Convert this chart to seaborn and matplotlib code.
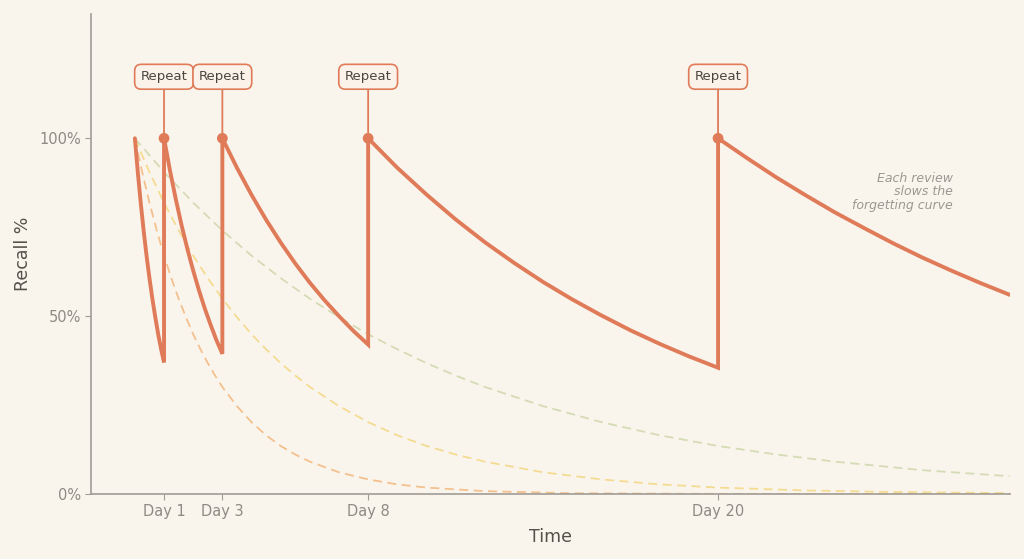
import pandas as pd
import matplotlib.pyplot as plt
import seaborn as sns

# Review days (when a repeat happens)
review_days = [1, 3, 8, 20]

# Solid curve: recall with spaced repetition
recall_days = [0, 0.1, 0.2, 0.3, 0.4, 0.5, 0.6, 0.7, 0.8, 0.9, 1.0,
               1.0, 1.2, 1.4, 1.6, 1.8, 2.0, 2.2, 2.4, 2.6, 2.8, 3.0,
               3.0, 3.5, 4, 4.5, 5, 5.5, 6, 6.5, 7, 7.5, 8,
               8, 9, 10, 11, 12, 13, 14, 15, 16, 17, 18, 19, 20,
               20, 21, 22, 23, 24, 25, 26, 27, 28, 29, 30]
recall_vals = [100, 90.5, 81.9, 74.1, 67.0, 60.7, 54.9, 49.7, 44.9, 40.7, 37,
               100, 91.1, 83.0, 75.6, 68.9, 62.8, 57.2, 52.1, 47.5, 43.2, 39.4,
               100, 91.7, 84.1, 77.1, 70.7, 64.8, 59.4, 54.5, 50.0, 45.8, 42.0,
               100, 91.7, 84.2, 77.2, 70.8, 65.0, 59.6, 54.7, 50.2, 46.0, 42.2, 38.7, 35.5,
               100, 94.4, 89.0, 84.0, 79.2, 74.8, 70.5, 66.5, 62.8, 59.3, 56.0]

# Faded forgetting curves without review (dashed)
fast_days = [0, 0.25, 0.5, 0.75, 1, 1.25, 1.5, 1.75, 2, 2.25, 2.5, 2.75, 3,
             3.5, 4, 4.5, 5, 5.5, 6, 7, 8, 9, 10, 12, 15, 20, 30]
fast_vals = [100, 90.5, 81.9, 74.1, 67.0, 60.7, 54.9, 49.7, 44.9, 40.7, 36.8, 33.3, 30.1,
             24.7, 20.2, 16.5, 13.5, 11.1, 9.1, 6.1, 4.1, 2.7, 1.8, 0.8, 0.2, 0.03, 0]

mid_days = [0, 0.5, 1, 1.5, 2, 2.5, 3, 3.5, 4, 4.5, 5, 5.5, 6,
            7, 8, 9, 10, 11, 12, 14, 16, 18, 20, 23, 26, 30]
mid_vals = [100, 90.5, 81.9, 74.1, 67.0, 60.7, 54.9, 49.7, 44.9, 40.7, 36.8, 33.3, 30.1,
            24.7, 20.2, 16.5, 13.5, 11.1, 9.1, 6.1, 4.1, 2.7, 1.8, 1.0, 0.55, 0.25]

slow_days = [0, 1, 2, 3, 4, 5, 6, 7, 8, 9, 10, 11, 12,
             14, 16, 18, 20, 22, 24, 27, 30]
slow_vals = [100, 90.5, 81.9, 74.1, 67.0, 60.7, 54.9, 49.7, 44.9, 40.7, 36.8, 33.3, 30.1,
             24.7, 20.2, 16.5, 13.5, 11.1, 9.1, 6.7, 5.0]

bg = '#FAF5EC'
coral = '#E07B5A'
grey = '#8E8A84'

sns.set_theme(style='white')
plt.rcParams['font.family'] = ['DejaVu Sans']

fig = plt.figure(figsize=(10.24, 5.59), dpi=100, facecolor=bg)
ax = fig.add_axes([0.089, 0.1163, 0.897, 0.859])
ax.set_facecolor(bg)

dashed = [
    (fast_days, fast_vals, '#F3C08E'),
    (mid_days, mid_vals, '#F4DB92'),
    (slow_days, slow_vals, '#D5DBB5'),
]
for days, vals, col in dashed:
    d = pd.DataFrame({'day': days, 'recall': vals})
    sns.lineplot(data=d, x='day', y='recall', ax=ax, color=col, lw=1.3,
                 estimator=None, sort=False)
    ax.lines[-1].set_dashes([5, 3])

df = pd.DataFrame({'day': recall_days, 'recall': recall_vals})
sns.lineplot(data=df, x='day', y='recall', ax=ax, color=coral, lw=2.8,
             estimator=None, sort=False, solid_joinstyle='miter')

marks = pd.DataFrame({'day': review_days, 'recall': [100] * len(review_days)})
sns.scatterplot(data=marks, x='day', y='recall', ax=ax, color=coral, s=60,
                edgecolor='none', zorder=5)

for d in review_days:
    ax.annotate('Repeat', xy=(d, 100), xytext=(d, 117.3), ha='center', va='center',
                fontsize=9.5, color='#4A4540',
                bbox=dict(boxstyle='round,pad=0.45,rounding_size=0.5', fc='#FBF3EA',
                          ec=coral, lw=1.2),
                arrowprops=dict(arrowstyle='-', color=coral, lw=1.3,
                                shrinkA=0, shrinkB=0))

ax.text(28.05, 85, 'Each review\nslows the\nforgetting curve', ha='right', va='center',
        fontsize=9, style='italic', color='#9C9891', linespacing=1.05)

ax.set_xlim(-1.5, 30)
ax.set_ylim(0, 135)
ax.set_xticks(review_days)
ax.set_xticklabels([f'Day {d}' for d in review_days])
ax.set_yticks([0, 50, 100])
ax.set_yticklabels(['0%', '50%', '100%'])
ax.tick_params(axis='both', colors='#A09B95', labelcolor=grey, labelsize=10.5,
               length=4, width=0.8, bottom=True, left=True)
ax.set_xlabel('Time', fontsize=12.5, color='#555049', labelpad=6)
ax.set_ylabel('Recall %', fontsize=12.5, color='#555049', labelpad=5)

sns.despine(ax=ax)
for side in ['left', 'bottom']:
    ax.spines[side].set_color('#A09B95')
    ax.spines[side].set_linewidth(1.2)

fig.savefig('out.png', dpi=100, facecolor=bg)
